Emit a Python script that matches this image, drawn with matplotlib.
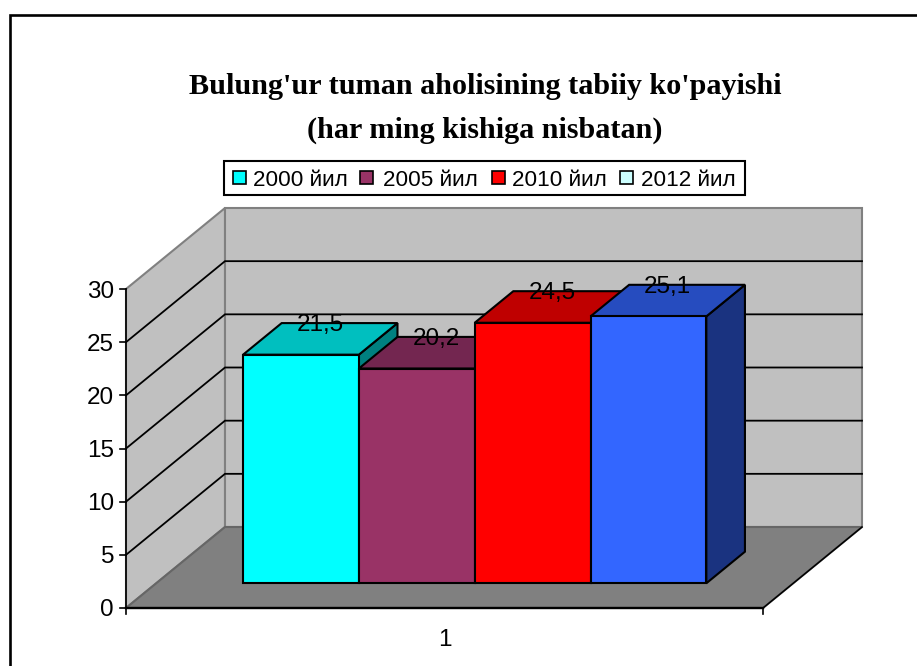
import matplotlib
matplotlib.use("Agg")
import matplotlib.pyplot as plt
from matplotlib.patches import Polygon, Rectangle

title_lines = ["Bulung'ur tuman aholisining tabiiy ko'payishi", "(har ming kishiga nisbatan)"]
series_names = ["2000 йил", "2005 йил", "2010 йил", "2012 йил"]
values = [21.5, 20.2, 24.5, 25.1]
category = "1"
y_ticks = [0, 5, 10, 15, 20, 25, 30]
front_colors = ["#00FFFF", "#993366", "#FF0000", "#3366FF"]
top_colors = ["#00BFBF", "#732650", "#BF0000", "#264CBF"]
side_colors = ["#008080", "#4D1A33", "#800000", "#1A3380"]
legend_colors = ["#00FFFF", "#993366", "#FF0000", "#CCFFFF"]

W, H = 917, 666
fig = plt.figure(figsize=(W / 100, H / 100), dpi=100)
ax = fig.add_axes([0, 0, 1, 1])
ax.set_xlim(0, W)
ax.set_ylim(H, 0)
ax.axis("off")

# oblique projection: x in 0..1 across the plot, v = value, d = depth 0..1
X0, X1, Y0, PX_PER_UNIT, DX, DY = 126, 763, 608, 319 / 30, 99, -81
YMAX = y_ticks[-1]


def proj(x, v, d=0.0):
    return (X0 + (X1 - X0) * x + DX * d, Y0 - PX_PER_UNIT * v + DY * d)


def poly(pts, fc, ec="black", lw=1.5, z=1):
    ax.add_patch(Polygon(pts, closed=True, fc=fc, ec=ec, lw=lw, zorder=z, joinstyle="miter"))


# chart frame: only the top and left edges fall inside the picture
ax.plot([9.5, 9.5, W], [H, 14.5, 14.5], color="black", lw=1.9, zorder=0, solid_joinstyle="miter")

# walls and floor
poly([proj(0, 0, 0), proj(0, YMAX, 0), proj(0, YMAX, 1), proj(0, 0, 1)], "#C0C0C0", "#808080")
poly([proj(0, 0, 1), proj(0, YMAX, 1), proj(1, YMAX, 1), proj(1, 0, 1)], "#C0C0C0", "#808080")
poly([proj(0, 0, 0), proj(0, 0, 1), proj(1, 0, 1), proj(1, 0, 0)], "#808080", "#666666")

# gridlines
for t in y_ticks[1:-1]:
    ax.plot(*zip(proj(0, t, 0), proj(0, t, 1), proj(1, t, 1)), color="black", lw=1.3, zorder=2,
            solid_joinstyle="miter")

# axes
ax.plot(*zip(proj(0, 0, 0), proj(0, YMAX, 0)), color="black", lw=1.2, zorder=3)
ax.plot(*zip(proj(0, 0, 0), proj(1, 0, 0)), color="black", lw=1.7, zorder=3)
ax.plot(*zip(proj(1, 0, 0), proj(1, 0, 1)), color="black", lw=1.1, zorder=3)
for t in y_ticks:
    x, y = proj(0, t, 0)
    ax.plot([x - 6, x], [y, y], color="black", lw=1.2, zorder=3)
    ax.text(x - 12, y, str(t), ha="right", va="center_baseline", fontsize=17.5,
            family="Liberation Sans", zorder=6)
for xt in (0, 1):
    x, y = proj(xt, 0, 0)
    ax.plot([x, x], [y, y + 6], color="black", lw=1.2, zorder=3)
x, y = proj(0.5, 0, 0)
ax.text(x, y + 30, category, ha="center", va="center_baseline", fontsize=17.5,
        family="Liberation Sans", zorder=6)

# bars: gap width 150 %, depth occupying the central part of the floor
n = len(values)
bw = 1 / (n + 1.5)
d0, d1 = 0.305, 0.695
for i, v in enumerate(values):
    xa = (0.75 + i) * bw
    xb = xa + bw
    z = 4 + i * 0.1
    poly([proj(xb, 0, d0), proj(xb, v, d0), proj(xb, v, d1), proj(xb, 0, d1)], side_colors[i], z=z)
    poly([proj(xa, v, d0), proj(xa, v, d1), proj(xb, v, d1), proj(xb, v, d0)], top_colors[i], z=z)
    poly([proj(xa, 0, d0), proj(xa, v, d0), proj(xb, v, d0), proj(xb, 0, d0)], front_colors[i], z=z)
for i, v in enumerate(values):
    lx, ly = proj((0.75 + i + 0.5) * bw, v, 0.5)
    ax.text(lx, ly - 16, f"{v:.1f}".replace(".", ","), ha="center", va="center_baseline",
            fontsize=17.5, family="Liberation Sans", zorder=7)

# title
for line, yc in zip(title_lines, (87, 130)):
    ax.text(485, yc, line, ha="center", va="center", fontsize=21.7, fontweight="bold",
            family="Liberation Serif", zorder=7)

# legend
ax.add_patch(Rectangle((224, 161), 521, 33.5, fc="white", ec="black", lw=1.5, zorder=5))
swatch_x = [233, 360, 492, 620]
text_x = [253, 383, 512, 641]
for name, c, sx, tx in zip(series_names, legend_colors, swatch_x, text_x):
    ax.add_patch(Rectangle((sx, 171), 13, 13, fc=c, ec="black", lw=1.2, zorder=6))
    ax.text(tx, 178, name, ha="left", va="center_baseline", fontsize=16.2,
            family="Liberation Sans", zorder=6)

fig.savefig("out.png", dpi=100)
